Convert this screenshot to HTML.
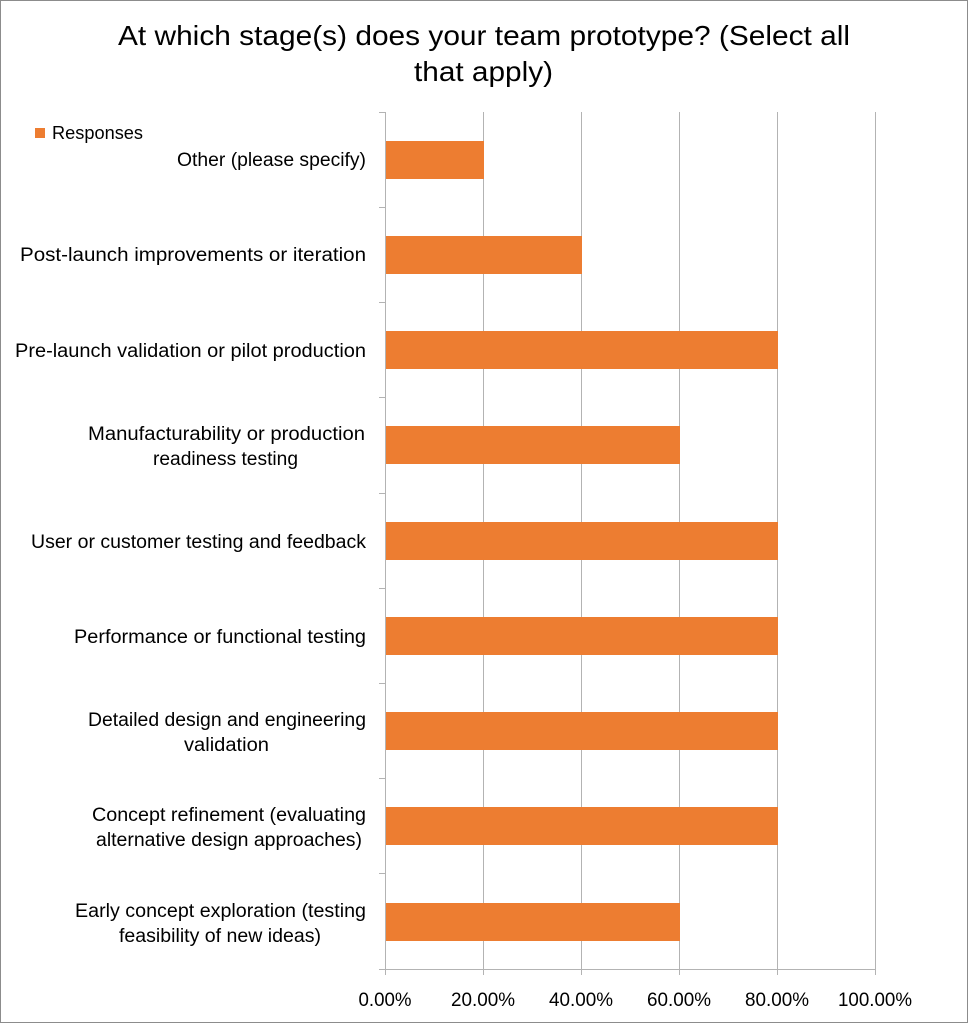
<!DOCTYPE html>
<html><head><style>
html,body{margin:0;padding:0;background:#fff;}
svg{display:block;}
text{font-family:"Liberation Sans",sans-serif;fill:#000;}
</style></head><body>
<svg width="968" height="1024" viewBox="0 0 968 1024">
<rect x="0.5" y="0.5" width="967" height="1022" fill="#fff" stroke="#8c8c8c"/>
<text x="118" y="45" font-size="28" textLength="732" lengthAdjust="spacingAndGlyphs">At which stage(s) does your team prototype? (Select all</text>
<text x="414" y="81" font-size="28" textLength="139" lengthAdjust="spacingAndGlyphs">that apply)</text>
<rect x="35" y="128" width="10" height="10" fill="#ed7d31"/>
<text x="52" y="139" font-size="18" textLength="91" lengthAdjust="spacingAndGlyphs">Responses</text>
<g stroke="#b3b3b3" stroke-width="1">
<line x1="483.5" y1="112" x2="483.5" y2="969"/>
<line x1="581.5" y1="112" x2="581.5" y2="969"/>
<line x1="679.5" y1="112" x2="679.5" y2="969"/>
<line x1="777.5" y1="112" x2="777.5" y2="969"/>
<line x1="875.5" y1="112" x2="875.5" y2="969"/>
<line x1="385.5" y1="112" x2="385.5" y2="969"/>
<line x1="379" y1="969.5" x2="876" y2="969.5"/>
<line x1="379" y1="112.5" x2="385" y2="112.5"/>
<line x1="379" y1="207.5" x2="385" y2="207.5"/>
<line x1="379" y1="302.5" x2="385" y2="302.5"/>
<line x1="379" y1="397.5" x2="385" y2="397.5"/>
<line x1="379" y1="493.5" x2="385" y2="493.5"/>
<line x1="379" y1="588.5" x2="385" y2="588.5"/>
<line x1="379" y1="683.5" x2="385" y2="683.5"/>
<line x1="379" y1="778.5" x2="385" y2="778.5"/>
<line x1="379" y1="873.5" x2="385" y2="873.5"/>
<line x1="385.5" y1="969" x2="385.5" y2="975"/>
<line x1="483.5" y1="969" x2="483.5" y2="975"/>
<line x1="581.5" y1="969" x2="581.5" y2="975"/>
<line x1="679.5" y1="969" x2="679.5" y2="975"/>
<line x1="777.5" y1="969" x2="777.5" y2="975"/>
<line x1="875.5" y1="969" x2="875.5" y2="975"/>
</g>
<g fill="#ed7d31">
<rect x="386" y="141" width="98" height="38"/>
<rect x="386" y="236" width="196" height="38"/>
<rect x="386" y="331" width="392" height="38"/>
<rect x="386" y="426" width="294" height="38"/>
<rect x="386" y="522" width="392" height="38"/>
<rect x="386" y="617" width="392" height="38"/>
<rect x="386" y="712" width="392" height="38"/>
<rect x="386" y="807" width="392" height="38"/>
<rect x="386" y="903" width="294" height="38"/>
</g>
<g font-size="19">
<text x="177" y="166" textLength="189" lengthAdjust="spacingAndGlyphs">Other (please specify)</text>
<text x="20" y="261" textLength="346" lengthAdjust="spacingAndGlyphs">Post-launch improvements or iteration</text>
<text x="15" y="357" textLength="351" lengthAdjust="spacingAndGlyphs">Pre-launch validation or pilot production</text>
<text x="88" y="440" textLength="277" lengthAdjust="spacingAndGlyphs">Manufacturability or production</text>
<text x="153" y="465" textLength="145" lengthAdjust="spacingAndGlyphs">readiness testing</text>
<text x="31" y="548" textLength="335" lengthAdjust="spacingAndGlyphs">User or customer testing and feedback</text>
<text x="74" y="643" textLength="292" lengthAdjust="spacingAndGlyphs">Performance or functional testing</text>
<text x="88" y="726" textLength="278" lengthAdjust="spacingAndGlyphs">Detailed design and engineering</text>
<text x="184" y="751" textLength="85" lengthAdjust="spacingAndGlyphs">validation</text>
<text x="92" y="821" textLength="274" lengthAdjust="spacingAndGlyphs">Concept refinement (evaluating</text>
<text x="96" y="846" textLength="266" lengthAdjust="spacingAndGlyphs">alternative design approaches)</text>
<text x="75" y="917" textLength="291" lengthAdjust="spacingAndGlyphs">Early concept exploration (testing</text>
<text x="119" y="942" textLength="202" lengthAdjust="spacingAndGlyphs">feasibility of new ideas)</text>
</g>
<g font-size="19" text-anchor="middle">
<text x="385" y="1006" textLength="53" lengthAdjust="spacingAndGlyphs">0.00%</text>
<text x="483" y="1006" textLength="64" lengthAdjust="spacingAndGlyphs">20.00%</text>
<text x="581" y="1006" textLength="64" lengthAdjust="spacingAndGlyphs">40.00%</text>
<text x="679" y="1006" textLength="64" lengthAdjust="spacingAndGlyphs">60.00%</text>
<text x="777" y="1006" textLength="64" lengthAdjust="spacingAndGlyphs">80.00%</text>
<text x="875" y="1006" textLength="74" lengthAdjust="spacingAndGlyphs">100.00%</text>
</g>
</svg>
</body></html>
